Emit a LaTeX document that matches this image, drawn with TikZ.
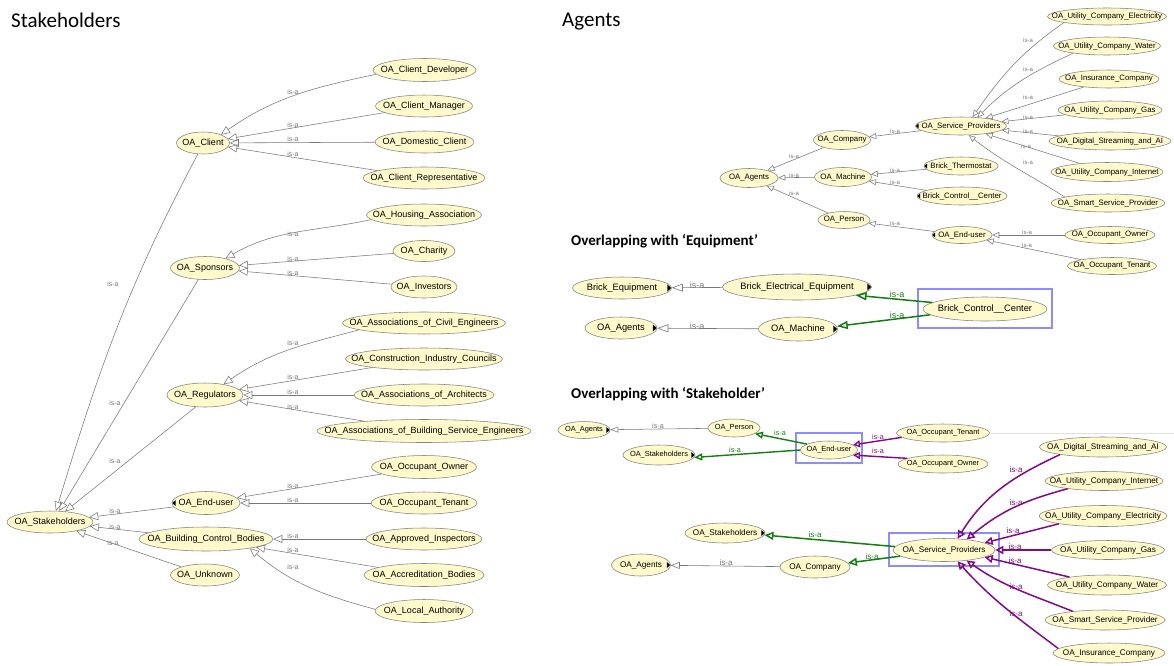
\documentclass[tikz,border=0pt]{standalone}
\usepackage{fontspec}
\setmainfont{Liberation Sans}
\newfontfamily\headfont{Carlito}
\usetikzlibrary{shapes.geometric,arrows.meta}

\definecolor{classfill}{RGB}{255,249,204}
\definecolor{classline}{RGB}{130,130,130}
\definecolor{isagray}{RGB}{120,120,120}
\definecolor{isagreen}{RGB}{20,125,20}
\definecolor{isapurple}{RGB}{130,10,130}
\definecolor{focusblue}{RGB}{140,140,255}

% small black "expandable" markers on the left or right edge of a class
\newcommand\markwest[2]{\fill ([xshift=0.6pt]#1.west) -- ++(#2*1.1,#2) -- ++(0,-2*#2) -- cycle;}
\newcommand\markeast[2]{\fill ([xshift=-0.6pt]#1.east) -- ++(-#2*1.1,#2) -- ++(0,-2*#2) -- cycle;}

\tikzset{
  cls/.style={ellipse, draw=classline, fill=classfill, line width=0.55pt, inner sep=0pt, text=black,
    execute at begin node={\hbox to 0pt\bgroup\hss}, execute at end node={\hss\egroup}},
  sz/.style 2 args={minimum width=#1pt, minimum height=#2pt},
  fL/.style={font=\fontsize{9}{10}\selectfont},
  fA/.style={font=\fontsize{7.8}{9}\selectfont},
  fE/.style={font=\fontsize{9.3}{10}\selectfont},
  fS/.style={font=\fontsize{7.4}{9}\selectfont},
  fB/.style={font=\fontsize{8.2}{9}\selectfont},
  focus/.style={draw=focusblue, line width=2.5pt, inner sep=0pt},
  headline/.style={anchor=west, inner sep=0pt, font=\headfont\fontsize{21}{24}\selectfont},
  subhead/.style={anchor=west, inner sep=0pt, font=\headfont\bfseries\fontsize{15}{18}\selectfont},
  % is-a connectors
  edgeL/.style={draw=isagray, line width=0.55pt, -{Triangle[open,length=9pt,width=8pt]}},
  edgeA/.style={draw=isagray, line width=0.55pt, -{Triangle[open,length=7pt,width=6pt]}},
  edgeE/.style={draw=isagray, line width=0.6pt, -{Triangle[open,length=11pt,width=8pt]}},
  edgeEg/.style={draw=isagreen, line width=1.5pt, -{Triangle[open,length=11pt,width=8pt]}},
  edgeS/.style={draw=isagray, line width=0.55pt, -{Triangle[open,length=8pt,width=6pt]}},
  edgeSg/.style={draw=isagreen, line width=1.4pt, -{Triangle[open,length=8pt,width=7pt]}},
  edgeSp/.style={draw=isapurple, line width=1.4pt, -{Triangle[open,length=7pt,width=7pt]}},
  edgeB/.style={draw=isagray, line width=0.6pt, -{Triangle[open,length=9pt,width=7pt]}},
  edgeBg/.style={draw=isagreen, line width=1.5pt, -{Triangle[open,length=9pt,width=8pt]}},
  edgeBp/.style={draw=isapurple, line width=1.5pt, -{Triangle[open,length=8pt,width=8pt]}},
  rimline/.style={draw=black!12, line width=0.8pt},
  % is-a labels
  lbl/.style={inner sep=0pt, text=isagray},
  lblL/.style={lbl, font=\fontsize{7}{8}\selectfont},
  lblA/.style={lbl, font=\fontsize{6}{7}\selectfont},
  lblE/.style={lbl, font=\fontsize{9}{10}\selectfont},
  lblEg/.style={lblE, text=isagreen},
  lblS/.style={lbl, font=\fontsize{7.2}{8}\selectfont},
  lblSg/.style={lblS, text=isagreen},
  lblSp/.style={lblS, text=isapurple},
  lblB/.style={lbl, font=\fontsize{8}{9}\selectfont},
  lblBg/.style={lblB, text=isagreen},
  lblBp/.style={lblB, text=isapurple},
}

\begin{document}
\begin{tikzpicture}[x=1pt, y=-1pt]
\useasboundingbox (0,0) rectangle (1174,665);
\fill[white] (0,0) rectangle (1174,665);

% ---------------- headings ----------------
\node[headline] (tStake) at (11,20) {Stakeholders};
\node[headline] (tAgents) at (562,22) {Agents};
\node[subhead] (tEquip) at (571,241) {Overlapping with ‘Equipment’};
\node[subhead] (tStkOv) at (571,394) {Overlapping with ‘Stakeholder’};

% ---------------- Stakeholders hierarchy ----------------
\node[cls,fL,sz={103}{23}] (cdev) at (424.5,70) {OA\_Client\_Developer};
\node[cls,fL,sz={97}{22}] (cman) at (424,106) {OA\_Client\_Manager};
\node[cls,fL,sz={99}{22}] (cdom) at (424.5,142) {OA\_Domestic\_Client};
\node[cls,fL,sz={122}{22}] (crep) at (424,178) {OA\_Client\_Representative};
\node[cls,fL,sz={53}{22}] (client) at (203,143) {OA\_Client};
\node[cls,fL,sz={115}{22}] (hous) at (424,215) {OA\_Housing\_Association};
\node[cls,fL,sz={62}{21}] (char) at (424,251) {OA\_Charity};
\node[cls,fL,sz={66}{22}] (inv) at (424,287) {OA\_Investors};
\node[cls,fL,sz={69}{23}] (spons) at (205,268) {OA\_Sponsors};
\node[cls,fL,sz={163}{22}] (civil) at (424,323) {OA\_Associations\_of\_Civil\_Engineers};
\node[cls,fL,sz={157}{22}] (cons) at (424,359) {OA\_Construction\_Industry\_Councils};
\node[cls,fL,sz={140}{22}] (arch) at (424,395) {OA\_Associations\_of\_Architects};
\node[cls,fL,sz={214}{23}] (bse) at (424,431) {OA\_Associations\_of\_Building\_Service\_Engineers};
\node[cls,fL,sz={76}{24}] (reg) at (205,395) {OA\_Regulators};
\node[cls,fL,sz={105}{23}] (oown) at (424,467) {OA\_Occupant\_Owner};
\node[cls,fL,sz={106}{22}] (oten) at (424,503) {OA\_Occupant\_Tenant};
\node[cls,fL,sz={68}{23}] (eu) at (206,503) {OA\_End-user};
\node[cls,fL,sz={86}{22}] (stake) at (50,522) {OA\_Stakeholders};
\node[cls,fL,sz={134}{24}] (bcb) at (206,539) {OA\_Building\_Control\_Bodies};
\node[cls,fL,sz={116}{22}] (appr) at (424,539) {OA\_Approved\_Inspectors};
\node[cls,fL,sz={120}{23}] (accr) at (424,575) {OA\_Accreditation\_Bodies};
\node[cls,fL,sz={98}{23}] (local) at (424,611) {OA\_Local\_Authority};
\node[cls,fL,sz={69}{22}] (unk) at (205,575) {OA\_Unknown};
\markwest{eu}{3}

\draw[edgeL] (cdev.185) to[out=192,in=35] (client.25) node[lblL] at (293,92) {is-a};
\draw[edgeL] (cman) -- (client) node[lblL] at (293,125) {is-a};
\draw[edgeL] (cdom) -- (client) node[lblL] at (293,139) {is-a};
\draw[edgeL] (crep) -- (client) node[lblL] at (293,154) {is-a};
\draw[edgeL] (hous.185) to[out=192,in=30] (spons.25) node[lblL] at (293,234) {is-a};
\draw[edgeL] (char) -- (spons) node[lblL] at (293,259) {is-a};
\draw[edgeL] (inv) -- (spons) node[lblL] at (293,273) {is-a};
\draw[edgeL] (civil.186) to[out=195,in=35] (reg.30) node[lblL] at (293,343) {is-a};
\draw[edgeL] (cons) -- (reg) node[lblL] at (293,377) {is-a};
\draw[edgeL] (arch) -- (reg) node[lblL] at (293,392) {is-a};
\draw[edgeL] (bse) -- (reg) node[lblL] at (293,407) {is-a};
\draw[edgeL] (oown) -- (eu) node[lblL] at (293,486) {is-a};
\draw[edgeL] (oten) -- (eu) node[lblL] at (293,500) {is-a};
\draw[edgeL] (appr) -- (bcb) node[lblL] at (293,536) {is-a};
\draw[edgeL] (accr) -- (bcb) node[lblL] at (293,550) {is-a};
\draw[edgeL] (local.178) to[out=165,in=-40] (bcb.-12) node[lblL] at (293,567) {is-a};

\draw[edgeL] (client.245) to[out=242,in=73] (stake.62) node[lblL] at (113,284) {is-a};
\draw[edgeL] (spons.240) -- (stake.50) node[lblL] at (115,403) {is-a};
\draw[edgeL] (reg.232) -- (stake.35) node[lblL] at (115,461) {is-a};
\draw[edgeL] (eu) -- (stake) node[lblL] at (115,511) {is-a};
\draw[edgeL] (bcb) -- (stake) node[lblL] at (115,527) {is-a};
\draw[edgeL] (unk) -- (stake) node[lblL] at (113,543) {is-a};

% ---------------- Agents hierarchy ----------------
\node[cls,fA,sz={119}{17}] (uce) at (1107,16.5) {OA\_Utility\_Company\_Electricity};
\node[cls,fA,sz={107}{18}] (ucw) at (1107,46) {OA\_Utility\_Company\_Water};
\node[cls,fA,sz={100}{18}] (ins) at (1109,79) {OA\_Insurance\_Company};
\node[cls,fA,sz={104}{18}] (gas) at (1110,110) {OA\_Utility\_Company\_Gas};
\node[cls,fA,sz={122}{18}] (dig) at (1110,141) {OA\_Digital\_Streaming\_and\_AI};
\node[cls,fA,sz={112}{19}] (uci) at (1107,172) {OA\_Utility\_Company\_Internet};
\node[cls,fA,sz={114}{18}] (ssp) at (1108,203) {OA\_Smart\_Service\_Provider};
\node[cls,fA,sz={91}{18}] (sp1) at (961,126) {OA\_Service\_Providers};
\node[cls,fA,sz={57}{19}] (comp) at (842,140) {OA\_Company};
\node[cls,fA,sz={58}{19}] (ag1) at (749,178) {OA\_Agents};
\node[cls,fA,sz={57}{19}] (mach) at (843,177) {OA\_Machine};
\node[cls,fA,sz={74}{18}] (therm) at (961,166) {Brick\_Thermostat};
\node[cls,fA,sz={90}{18}] (ctrl) at (962,196) {Brick\_Control\_\_Center};
\node[cls,fA,sz={52}{17}] (pers) at (844,220) {OA\_Person};
\node[cls,fA,sz={60}{17}] (eu1) at (962,235) {OA\_End-user};
\node[cls,fA,sz={90}{17}] (oo1) at (1110,235) {OA\_Occupant\_Owner};
\node[cls,fA,sz={89}{17}] (ot1) at (1112,266) {OA\_Occupant\_Tenant};
\markwest{sp1}{2.5}
\markwest{therm}{2.5}
\markwest{ctrl}{2.5}
\markwest{eu1}{2.5}

\draw[edgeA] (uce.188) to[out=215,in=55] (sp1.38) node[lblA] at (1028,40) {is-a};
\draw[edgeA] (ucw.192) to[out=205,in=45] (sp1.28) node[lblA] at (1028,69) {is-a};
\draw[edgeA] (ins) -- (sp1) node[lblA] at (1028,97) {is-a};
\draw[edgeA] (gas) -- (sp1) node[lblA] at (1028,117) {is-a};
\draw[edgeA] (dig) -- (sp1) node[lblA] at (1028,131) {is-a};
\draw[edgeA] (uci) -- (sp1) node[lblA] at (1026,146) {is-a};
\draw[edgeA] (ssp.172) to[out=148,in=-38] (sp1.-50) node[lblA] at (1028,162) {is-a};
\draw[edgeA] (sp1) -- (comp) node[lblA] at (895,131) {is-a};
\draw[edgeA] (comp) -- (ag1) node[lblA] at (794,156) {is-a};
\draw[edgeA] (mach) -- (ag1) node[lblA] at (794,175) {is-a};
\draw[edgeA] (pers) -- (ag1) node[lblA] at (794,193) {is-a};
\draw[edgeA] (therm) -- (mach) node[lblA] at (895,170) {is-a};
\draw[edgeA] (ctrl) -- (mach) node[lblA] at (895,182) {is-a};
\draw[edgeA] (eu1) -- (pers) node[lblA] at (895,223) {is-a};
\draw[edgeA] (oo1) -- (eu1) node[lblA] at (1027,232) {is-a};
\draw[edgeA] (ot1) -- (eu1) node[lblA] at (1027,245) {is-a};

% ---------------- Overlapping with Equipment ----------------
\node[cls,fE,sz={99}{22}] (beq) at (622,288) {Brick\_Equipment};
\node[cls,fE,sz={149}{26}] (bele) at (797,287) {Brick\_Electrical\_Equipment};
\node[cls,fE,sz={124}{24}] (bcc) at (985,309) {Brick\_Control\_\_Center};
\node[cls,fE,sz={72}{22}] (ag2) at (621,328) {OA\_Agents};
\node[cls,fE,sz={79}{24}] (mach2) at (798,329) {OA\_Machine};
\node[focus,sz={134}{39}] (box1) at (985,308.5) {};
\markeast{beq}{3.5}
\markeast{bele}{3.5}
\markeast{ag2}{3.5}
\markeast{mach2}{3.5}

\draw[edgeE] (bele) -- (beq) node[lblE] at (697,285) {is-a};
\draw[edgeE] (mach2) -- (ag2) node[lblE] at (697,326) {is-a};
\draw[edgeEg] (bcc.173) -- (bele.-8) node[lblEg] at (897,294) {is-a};
\draw[edgeEg] (bcc.186) -- (mach2.4) node[lblEg] at (897,315) {is-a};

% ---------------- Overlapping with Stakeholder ----------------
\node[cls,fS,sz={52}{17}] (ag3) at (584,430) {OA\_Agents};
\node[cls,fS,sz={52}{18}] (per3) at (734,428) {OA\_Person};
\node[cls,fS,sz={72}{20}] (stk3) at (659,455) {OA\_Stakeholders};
\node[cls,fS,sz={57}{18}] (eu3) at (829,450) {OA\_End-user};
\node[cls,fS,sz={93}{18}] (ten3) at (943,433) {OA\_Occupant\_Tenant};
\node[cls,fS,sz={90}{18}] (own3) at (943,464) {OA\_Occupant\_Owner};
\node[focus,sz={66}{30}] (box2) at (829,448) {};
\markeast{ag3}{3}
\markeast{stk3}{3}
\coordinate (rim) at (1174,433);
\draw[rimline] (ten3.east) -- (rim);

\draw[edgeS] (per3) -- (ag3) node[lblS] at (658,426) {is-a};
\draw[edgeSg] (eu3.165) -- (per3.-15) node[lblSg] at (780,433) {is-a};
\draw[edgeSg] (eu3.west) -- (stk3.-4) node[lblSg] at (735,450) {is-a};
\draw[edgeSp] (ten3.186) -- (eu3.12) node[lblSp] at (878,437) {is-a};
\draw[edgeSp] (own3.171) -- (eu3.-12) node[lblSp] at (878,451) {is-a};

\node[cls,fB,sz={80}{20}] (stk4) at (725,533) {OA\_Stakeholders};
\node[cls,fB,sz={59}{22}] (ag4) at (641,565) {OA\_Agents};
\node[cls,fB,sz={70}{22}] (comp4) at (815,567) {OA\_Company};
\node[cls,fB,sz={102}{23}] (sp4) at (944,550) {OA\_Service\_Providers};
\node[cls,fB,sz={127}{20}] (dig4) at (1103,447) {OA\_Digital\_Streaming\_and\_AI};
\node[cls,fB,sz={118}{19}] (uci4) at (1104,481) {OA\_Utility\_Company\_Internet};
\node[cls,fB,sz={128}{21}] (uce4) at (1103,516) {OA\_Utility\_Company\_Electricity};
\node[cls,fB,sz={113}{19}] (gas4) at (1108,550) {OA\_Utility\_Company\_Gas};
\node[cls,fB,sz={119}{20}] (ucw4) at (1107,585) {OA\_Utility\_Company\_Water};
\node[cls,fB,sz={120}{20}] (ssp4) at (1105,620) {OA\_Smart\_Service\_Provider};
\node[cls,fB,sz={112}{20}] (ins4) at (1109,653) {OA\_Insurance\_Company};
\node[focus,sz={110}{33}] (box3) at (944,549.5) {};
\markeast{stk4}{3}
\markeast{ag4}{3}

\draw[edgeB] (comp4) -- (ag4) node[lblB] at (726,563) {is-a};
\draw[edgeBg] (sp4.176) -- (stk4.-3) node[lblBg] at (815,535) {is-a};
\draw[edgeBg] (sp4.188) -- (comp4.7) node[lblBg] at (872,557) {is-a};
\draw[edgeBp] (dig4.190) to[out=205,in=58] (sp4.40) node[lblBp] at (1016,470) {is-a};
\draw[edgeBp] (uci4.192) to[out=195,in=40] (sp4.25) node[lblBp] at (1016,503) {is-a};
\draw[edgeBp] (uce4.190) -- (sp4.10) node[lblBp] at (1013,531) {is-a};
\draw[edgeBp] (gas4) -- (sp4) node[lblBp] at (1015,547) {is-a};
\draw[edgeBp] (ucw4.168) -- (sp4.-10) node[lblBp] at (1015,561) {is-a};
\draw[edgeBp] (ssp4.165) to[out=158,in=-35] (sp4.-25) node[lblBp] at (1016,587) {is-a};
\draw[edgeBp] (ins4.175) to[out=143,in=-48] (sp4.-40) node[lblBp] at (1016,614) {is-a};
\end{tikzpicture}
\end{document}
